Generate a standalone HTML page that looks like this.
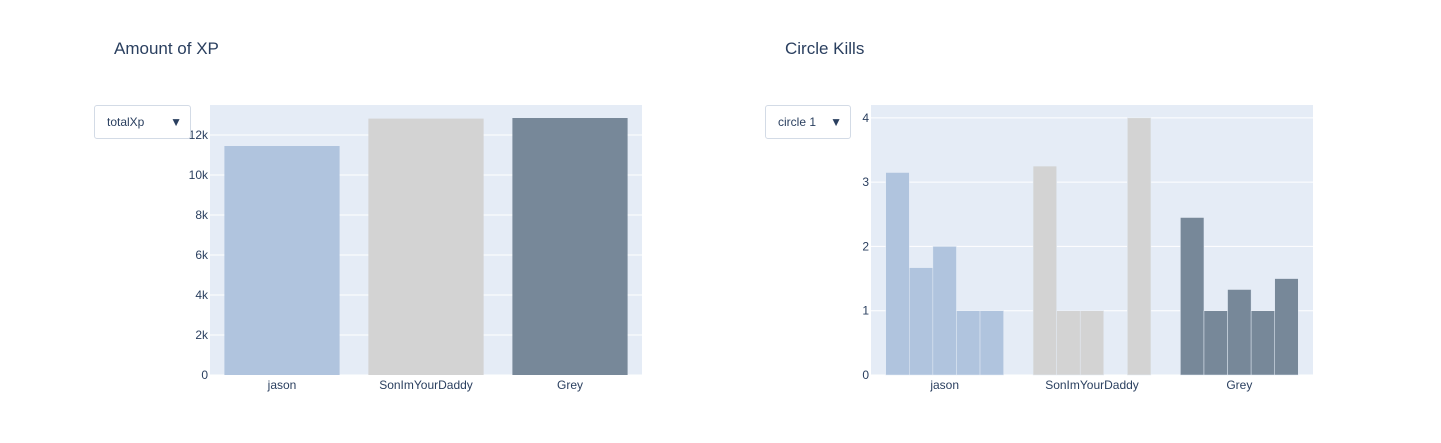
<!DOCTYPE html>
<html><head><meta charset="utf-8"><style>
body{margin:0;background:#fff;width:1441px;height:443px;overflow:hidden;font-family:"Liberation Sans",sans-serif}
.dd{position:absolute;border:1px solid #d3dbe6;border-radius:3px;background:#fff;font-size:12px;color:#2a3f5f;box-sizing:border-box}
.dd span{position:absolute;top:9px}
.dd b{position:absolute;right:8px;top:9px;font-size:12px;color:#2a3f5f}
</style></head><body>
<svg width="1441" height="443" style="position:absolute;left:0;top:0" id="svg">
<text x="114" y="54" font-size="17" fill="#2a3f5f" font-family="Liberation Sans">Amount of XP</text>
<text x="785" y="54" font-size="17" fill="#2a3f5f" font-family="Liberation Sans">Circle Kills</text>
<g id="left"></g><g id="right"></g>
</svg>
<div class="dd" style="left:94px;top:105px;width:97px;height:34px"><span style="left:12px">totalXp</span><b>▼</b></div>
<div class="dd" style="left:765px;top:105px;width:86px;height:34px"><span style="left:12px">circle 1</span><b>▼</b></div>
<script>
const categories=["jason","SonImYourDaddy","Grey"];
const xpValues=[11450,12820,12850];
const xpTicks=[0,2000,4000,6000,8000,10000,12000];
const xpTickLabels=["0","2k","4k","6k","8k","10k","12k"];
const killsJason=[3.15,1.67,2,1,1];
const killsSon=[3.25,1,1,0,4];
const killsGrey=[2.45,1,1.33,1,1.5];
const killTicks=[0,1,2,3,4];
const colors=["#b0c4de","#d3d3d3","#778899"];
const NS="http://www.w3.org/2000/svg";
function mk(p,t,a){const e=document.createElementNS(NS,t);for(const k in a)e.setAttribute(k,a[k]);p.appendChild(e);return e;}
function frame(g,x0,y0,w,h,ticks,labels,ymax,nm){
  mk(g,'rect',{x:x0,y:y0,width:w,height:h,fill:'#e5ecf6'});
  const y=v=>y0+h-v/ymax*h;
  ticks.forEach((t,i)=>{
    const l=mk(g,'line',{x1:x0,x2:x0+w,y1:y(t),y2:y(t),stroke:'#fff','stroke-width':1});
    
    
    const tx=mk(g,'text',{x:x0-2,y:y(t)+4,'text-anchor':'end','font-size':12,fill:'#2a3f5f','font-family':'Liberation Sans'});
    tx.textContent=labels[i];
    
    
  });
  categories.forEach((c,i)=>{
    const tx=mk(g,'text',{x:x0+(i+0.5)*w/3,y:y0+h+14,'text-anchor':'middle','font-size':12,fill:'#2a3f5f','font-family':'Liberation Sans'});
    tx.textContent=c;
    
    
  });
  return y;
}
(function(){
  const g=document.getElementById('left');const x0=210,y0=105,w=432,h=270;
  const y=frame(g,x0,y0,w,h,xpTicks,xpTickLabels,13500,'xp');
  const bw=w/3;
  xpValues.forEach((v,i)=>{
    const r=mk(g,'rect',{x:x0+i*bw+bw*0.1,y:y(v),width:bw*0.8,height:y0+h-y(v),fill:colors[i]});
    
    
  });
})();
(function(){
  const g=document.getElementById('right');const x0=871,y0=105,w=442,h=270;
  const y=frame(g,x0,y0,w,h,killTicks,killTicks.map(String),4.2,'kills');
  const series=[killsJason,killsSon,killsGrey];const cw=w/3;
  series.forEach((s,i)=>{
    const bw=cw*0.8/s.length;
    s.forEach((v,j)=>{
      if(v<=0)return;
      const r=mk(g,'rect',{x:x0+i*cw+cw*0.1+j*bw,y:y(v),width:bw,height:y0+h-y(v),fill:colors[i],stroke:'#e5ecf6','stroke-width':0.5});
      
      
    });
  });
})();
</script>
</body></html>
